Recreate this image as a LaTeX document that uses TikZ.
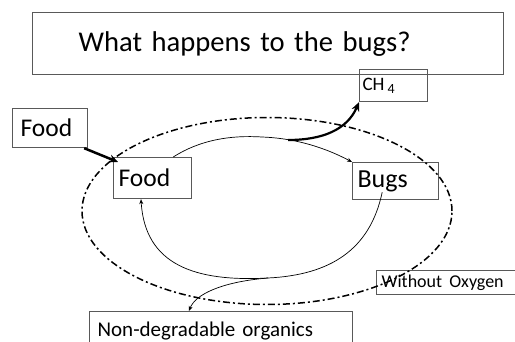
\documentclass[tikz,border=0pt]{standalone}
\usepackage{fontspec}
\setmainfont{Carlito}
\usetikzlibrary{arrows.meta,shapes.geometric}
\begin{document}
\begin{tikzpicture}[x=1pt,y=-1pt,
  box/.style={draw=black!65, line width=1.2pt, anchor=north west, inner ysep=0pt, align=left},
  thin/.style={line width=0.7pt, -{Stealth[length=5pt,width=4pt]}},
  thick/.style={line width=2.2pt, -{Stealth[length=9pt,width=8pt]}}]
\useasboundingbox (0,0) rectangle (515,342);
% boxes
\node[box, minimum height=62pt, inner xsep=46pt, text width=379pt, font=\fontsize{28.6}{33}\selectfont] (title) at (32,12) {What happens to the bugs?};
\node[box, minimum height=32pt, inner xsep=3pt, text width=62pt, font=\fontsize{19}{22}\selectfont] (ch4) at (359,69) {CH\,\raisebox{-0.3ex}{\fontsize{14}{16}\selectfont 4}};
\node[box, minimum height=39pt, inner xsep=8pt, text width=59pt, font=\fontsize{25.5}{28}\selectfont] (food1) at (12,108) {Food};
\node[box, minimum height=41pt, inner xsep=5pt, text width=68pt, font=\fontsize{25.5}{28}\selectfont] (food2) at (113,157) {Food};
\node[box, minimum height=37pt, inner xsep=5pt, text width=76pt, font=\fontsize{26}{28}\selectfont] (bugs) at (352,162) {Bugs};
\node[box, minimum height=24pt, inner xsep=5pt, text width=129pt, font=\fontsize{18}{20}\selectfont] (oxy) at (376,270) {Without\hspace{0.4em}Oxygen};
\node[box, minimum height=40pt, inner xsep=8pt, text width=247pt, text height=14pt, anchor=north west, font=\fontsize{21}{24}\selectfont] (nondeg) at (89,311) {Non-degradable organics};
% dashed ellipse
\node[draw, line width=1.5pt, ellipse, minimum width=370pt, minimum height=187pt, dash pattern=on 7pt off 3pt on 2pt off 3pt] (env) at (267,211) {};
% loop
\coordinate (top) at (262,137);
\coordinate (bot) at (268,278);
\draw[thin] ([xshift=-19pt]food2.north east) .. controls (200,140) and (230,135) .. (top)
   .. controls (290,138) and (320,145) .. (bugs.north west);
\draw[thick] (288,140) .. controls (322,140) and (347,130) .. (ch4.south west);
\draw[line width=0.7pt] ([xshift=-57pt,yshift=8pt]bugs.south east) .. controls (370,250) and (330,275) .. (bot);
\draw[thin] (bot) .. controls (195,282) and (145,265) .. ([xshift=28pt]food2.south west);
\draw[thin] (bot) .. controls (220,282) and (195,295) .. ([xshift=100pt]nondeg.north west);
\draw[thick, line width=2.5pt] ([xshift=-4pt]food1.south east) -- ([xshift=5pt,yshift=-5pt]food2.north west);
\end{tikzpicture}
\end{document}
